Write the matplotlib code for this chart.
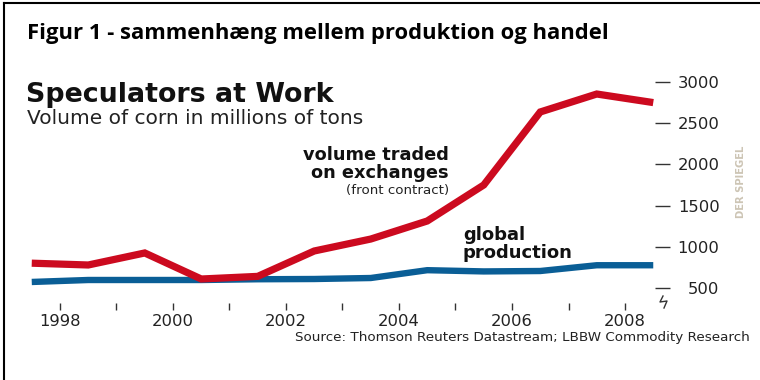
import matplotlib
matplotlib.use("Agg")
import matplotlib.pyplot as plt
from matplotlib.lines import Line2D

# ---- data ----
years = [1997.5, 1998.5, 1999.5, 2000.5, 2001.5, 2002.5, 2003.5,
         2004.5, 2005.5, 2006.5, 2007.5, 2008.5]
traded = [800, 778, 924, 608, 640, 948, 1093, 1312, 1749, 2635, 2853, 2749]
production = [572, 596, 596, 596, 605, 608, 620, 715, 700, 705, 775, 775]
ytick_vals = [500, 1000, 1500, 2000, 2500, 3000]
xtick_years = list(range(1998, 2009))
xtick_labels = [str(y) if y % 2 == 0 else "" for y in xtick_years]

RED = "#cc0a1f"
BLUE = "#0a5e96"

W, H = 760, 380
fig = plt.figure(figsize=(W / 100, H / 100), dpi=100)
fig.patch.set_facecolor("white")

def fx(px):
    return px / W

def fy(py):
    return 1 - py / H

# axes: left 20px, right 655px, top 70px, bottom 303px
ax = fig.add_axes([fx(20), fy(303), fx(655) - fx(20), fy(70) - fy(303)])
ax.set_facecolor("none")
px_per_year = 56.5
px_per_unit = 41.2 / 500
ax.set_xlim(1998 - (60 - 20) / px_per_year, 1998 + (655 - 60) / px_per_year)
ax.set_ylim(1000 - (303 - 246.7) / px_per_unit, 1000 + (246.7 - 70) / px_per_unit)

ax.plot(years, production, color=BLUE, lw=4.6, solid_capstyle="butt",
        solid_joinstyle="miter", zorder=2)
ax.plot(years, traded, color=RED, lw=5.2, solid_capstyle="butt",
        solid_joinstyle="miter", zorder=3)

for s in ax.spines.values():
    s.set_visible(False)

ax.yaxis.tick_right()
ax.set_yticks(ytick_vals)
ax.set_yticklabels([str(v) for v in ytick_vals])
ax.tick_params(axis="y", direction="out", length=10.5, width=1.0,
               color="#333333", pad=36, labelsize=11.8, labelcolor="#222222")
for lbl in ax.get_yticklabels():
    lbl.set_ha("right")

ax.set_xticks(xtick_years)
ax.set_xticklabels(xtick_labels)
ax.tick_params(axis="x", direction="out", length=5, width=1.0,
               color="#333333", pad=3, labelsize=11.8, labelcolor="#222222")

# axis break symbol below the 500 tick
ax.add_line(Line2D([fx(663), fx(660), fx(667), fx(664)],
                   [fy(296), fy(302), fy(301), fy(308)],
                   transform=fig.transFigure, color="#333333", lw=1.0,
                   clip_on=False))

# texts
fig.text(fx(27), fy(33), "Figur 1 - sammenhæng mellem produktion og handel",
         fontsize=15.8, fontweight="bold", family="Open Sans", va="center",
         ha="left", color="black")
fig.text(fx(26), fy(95), "Speculators at Work", fontsize=19.4,
         fontweight="heavy", family="DejaVu Sans", va="center", ha="left",
         color="#111111")
fig.text(fx(27), fy(119), "Volume of corn in millions of tons", fontsize=14.5,
         family="DejaVu Sans", va="center", ha="left", color="#222222")
fig.text(fx(449), fy(164), "volume traded\non exchanges", fontsize=12.8,
         fontweight="bold", family="DejaVu Sans", va="center", ha="right",
         linespacing=0.95, color="#111111")
fig.text(fx(449), fy(190.5), "(front contract)", fontsize=9.6,
         family="DejaVu Sans", va="center", ha="right", color="#222222")
fig.text(fx(463), fy(244), "global\nproduction", fontsize=13,
         fontweight="bold", family="DejaVu Sans", va="center", ha="left",
         linespacing=0.95, color="#111111")
fig.text(fx(750), fy(338),
         "Source: Thomson Reuters Datastream; LBBW Commodity Research",
         fontsize=9.7, family="DejaVu Sans", va="center", ha="right",
         color="#222222")
fig.text(fx(741), fy(182), "DER SPIEGEL", fontsize=8, family="DejaVu Sans",
         fontweight="bold", rotation=90, va="center", ha="center",
         color="#cdc5b5", fontstretch="condensed")

# document frame (left and top edges)
fig.add_artist(Line2D([fx(4), fx(4)], [fy(3), 0], transform=fig.transFigure,
                      color="black", lw=1.5))
fig.add_artist(Line2D([fx(4), 1], [fy(3), fy(3)], transform=fig.transFigure,
                      color="black", lw=1.5))

fig.savefig("out.png", dpi=100, facecolor="white")
